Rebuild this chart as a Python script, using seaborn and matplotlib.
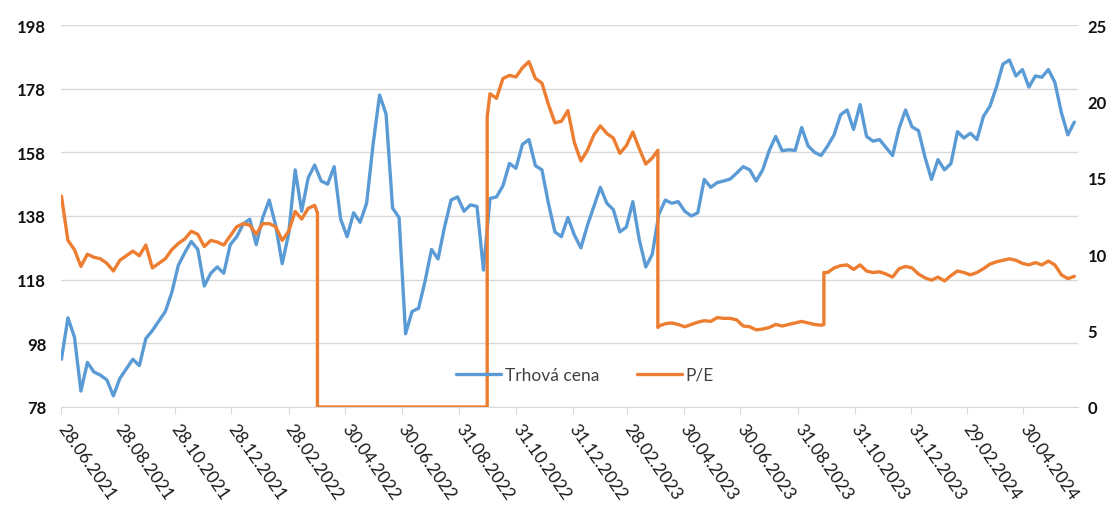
import pandas as pd
import seaborn as sns
import matplotlib.pyplot as plt

# weekly samples starting 28.06.2021
start_date = '2021-06-28'

price = [93, 106, 100, 83, 92, 89, 88, 86.5, 81.5, 87,
         90, 93, 91, 99.5, 102, 105, 108, 114, 122.5, 126.5,
         130, 127.5, 116, 120, 122, 120, 129, 131.5, 135.5, 137,
         129, 137.5, 143, 135, 123, 132.5, 152.5, 139.5, 150, 154,
         149, 148, 153.5, 137, 131.5, 139, 136, 142, 160.5, 176,
         170, 140.5, 137.5, 101, 108, 109, 117.5, 127.5, 124.5, 134.5,
         143, 144, 139.5, 141.5, 141, 121, 143.5, 144, 147.5, 154.5,
         153, 160.5, 162, 153.8, 152.5, 142, 133, 131.5, 137.5, 132,
         128, 135, 141, 147, 142, 140, 133, 134.5, 142.5, 130.5,
         122, 126, 138.5, 143, 142, 142.5, 139.5, 138, 139, 149.5,
         147, 148.5, 149, 149.6, 151.5, 153.5, 152.5, 149, 152.5, 158.5,
         163, 158.5, 158.8, 158.6, 165.8, 160, 158, 157, 160, 163.5,
         169.8, 171.3, 165.2, 173, 163, 161.5, 162, 159.5, 157, 165.5,
         171.3, 166, 164.8, 156.5, 149.5, 155.7, 152.5, 154.5, 164.5, 162.5,
         164, 162, 169.3, 172.5, 178.5, 185.7, 187, 182, 184, 178.5,
         182, 181.6, 184, 180, 170.5, 163.5, 167.5]

pe = [13.8, 10.9, 10.3, 9.2, 10.0, 9.8, 9.7, 9.4, 8.9, 9.6,
      9.9, 10.2, 9.9, 10.6, 9.1, 9.4, 9.7, 10.3, 10.7, 11.0,
      11.5, 11.3, 10.5, 10.9, 10.8, 10.6, 11.2, 11.8, 12.0, 11.9,
      11.3, 12.0, 12.0, 11.8, 10.9, 11.5, 12.8, 12.3, 13.0, 13.2,
      0, 0, 0, 0, 0, 0, 0, 0, 0, 0,
      0, 0, 0, 0, 0, 0, 0, 0, 0, 0,
      0, 0, 0, 0, 0, 0, 20.5, 20.2, 21.5, 21.7,
      21.6, 22.2, 22.6, 21.5, 21.2, 19.8, 18.6, 18.7, 19.4, 17.3,
      16.1, 16.8, 17.8, 18.4, 17.9, 17.6, 16.6, 17.1, 18.0, 16.9,
      15.9, 16.3, 5.3, 5.45, 5.5, 5.4, 5.25, 5.4, 5.55, 5.65,
      5.6, 5.85, 5.8, 5.8, 5.7, 5.3, 5.25, 5.05, 5.1, 5.2,
      5.4, 5.3, 5.4, 5.5, 5.6, 5.5, 5.4, 5.35, 8.8, 9.1,
      9.25, 9.3, 9.0, 9.3, 8.9, 8.8, 8.85, 8.7, 8.5, 9.05,
      9.2, 9.1, 8.7, 8.45, 8.3, 8.5, 8.25, 8.6, 8.9, 8.8,
      8.65, 8.8, 9.05, 9.35, 9.5, 9.6, 9.7, 9.6, 9.4, 9.3,
      9.45, 9.3, 9.55, 9.3, 8.65, 8.4, 8.55]

# P/E steps happen within a single day
pe_jump_dates = ['2022-03-31', '2022-09-30', '2023-04-02', '2023-09-28']
pe_before = [12.7, 0, 16.8, 5.4]
pe_after = [0, 19.0, 5.2, 8.8]

tick_labels = ['28.06.2021', '28.08.2021', '28.10.2021', '28.12.2021', '28.02.2022',
               '30.04.2022', '30.06.2022', '31.08.2022', '31.10.2022', '31.12.2022',
               '28.02.2023', '30.04.2023', '30.06.2023', '31.08.2023', '31.10.2023',
               '31.12.2023', '29.02.2024', '30.04.2024']

dates = pd.date_range(start_date, periods=len(price), freq='7D')
df_price = pd.DataFrame({'date': dates, 'value': price})

weekly = pd.DataFrame({'date': dates, 'value': pe, 'order': 0})
jd = pd.to_datetime(pe_jump_dates)
jumps = pd.concat([pd.DataFrame({'date': jd, 'value': pe_before, 'order': 0}),
                   pd.DataFrame({'date': jd, 'value': pe_after, 'order': 1})])
df_pe = pd.concat([weekly, jumps]).sort_values(['date', 'order'], kind='mergesort')

sns.set_style('white')
plt.rcParams['font.family'] = ['Lato', 'DejaVu Sans']

blue = '#5B9BD5'
orange = '#ED7D31'
grid_c = '#d9d9d9'

fig = plt.figure(figsize=(11.13, 5.06), dpi=100)
ax = fig.add_axes([0.0552, 0.1937, 0.9134, 0.7549])
ax2 = ax.twinx()

sns.lineplot(data=df_price, x='date', y='value', ax=ax, color=blue, lw=2.4,
             estimator=None, sort=False, label='Trhová cena', legend=False)
sns.lineplot(data=df_pe, x='date', y='value', ax=ax2, color=orange, lw=2.4,
             estimator=None, sort=False, label='P/E', legend=False)

ax.set_ylim(78, 198)
ax.set_yticks(range(78, 199, 20))
ax2.set_ylim(0, 25)
ax2.set_yticks(range(0, 26, 5))
ax.set_xlim(pd.Timestamp('2021-06-28'), pd.Timestamp('2024-06-28'))

ax.yaxis.grid(True, color=grid_c, lw=1)
ax.set_axisbelow(True)
for a in (ax, ax2):
    for s in ('top', 'left', 'right', 'bottom'):
        a.spines[s].set_visible(False)
ax.spines['bottom'].set_visible(True)
ax.spines['bottom'].set_color(grid_c)
ax.set_xlabel('')
ax.set_ylabel('')
ax2.set_ylabel('')

tick_dates = pd.to_datetime(tick_labels, format='%d.%m.%Y')
ax.set_xticks(tick_dates)
ax.set_xticklabels(tick_labels, rotation=-55, ha='left', va='center',
                   rotation_mode='anchor', fontsize=12.5, color='#1a1a1a')
ax.tick_params(axis='x', length=5, color=grid_c, pad=8, bottom=True)
ax.tick_params(axis='y', length=0, pad=11, labelsize=12)
ax2.tick_params(axis='y', length=0, pad=7, labelsize=12)
for lab in ax.get_yticklabels() + ax2.get_yticklabels():
    lab.set_fontweight('bold')
    lab.set_color('#111111')

h1, l1 = ax.get_legend_handles_labels()
h2, l2 = ax2.get_legend_handles_labels()
leg = ax2.legend(h1 + h2, l1 + l2, loc='center', bbox_to_anchor=(0.515, 0.084),
                 ncol=2, frameon=False, fontsize=12.5, handlelength=2.6,
                 handletextpad=0.2, columnspacing=2.2)
for t in leg.get_texts():
    t.set_color('#404040')

fig.savefig('out.png', dpi=100)
